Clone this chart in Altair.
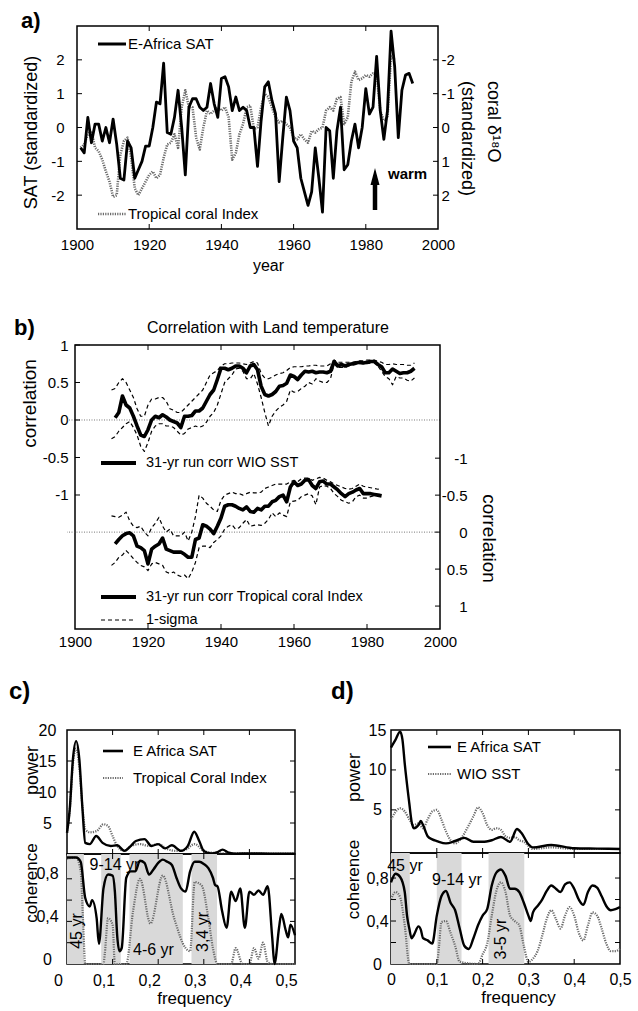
import altair as alt
import pandas as pd

FONT = "Liberation Sans"
INK = "#000000"
DOTS = "#6b6b6b"
SHADE = "#d9d9d9"

# ---------------- a) annual series ----------------
sat_years = list(range(1901, 1994))
sat_values = [
    -0.6, -0.75, 0.3, -0.45, 0.1, 0.1, -0.4, 0.0, -0.45, 0.25,
    -0.5, -1.5, -1.55, -0.4, -0.6, -1.5, -1.25, -1.0, -0.55, -0.55,
    0.0, 0.75, 0.7, 1.9, -0.15, -0.2, 0.3, 1.1, 0.0, -1.4,
    0.6, 0.85, 0.85, 0.6, 0.5, 0.6, 1.3, 0.7, 0.3, 1.45,
    1.5, 1.2, 0.5, 0.9, 0.5, 0.6, 0.5, 0.0, 0.0, -1.15,
    0.2, 1.2, 1.35, 0.8, 0.4, -1.6, -0.3, 0.9, 0.5, -0.4,
    -0.6, -1.5, -1.9, -2.3, -1.9, -0.6, -1.5, -2.5, 0.0, -0.1,
    -1.5, -0.1, 0.6, -1.25, -1.1, -0.4, 0.1, -0.6, 0.0, 1.15,
    0.4, 0.6, 2.1, 0.5, -0.35, 0.5, 2.85, 1.8, -0.3, 1.1,
    1.55, 1.6, 1.3,
]
coral_years = list(range(1901, 1989))
coral_d18o = [
    0.6, 0.5, 0.2, 0.1, 0.6, 0.7, 0.95, 1.3, 1.6, 2.05,
    2.0, 0.8, 0.4, 0.3, 0.9, 1.8, 2.0, 1.8, 1.6, 1.4,
    1.3, 1.5, 1.4, 0.9, 0.5, 0.45, 0.2, 0.6, -0.6, -1.1,
    -0.6, -0.6, 0.3, 0.65, 0.0, -0.5, -0.4, -0.5, -0.6, -0.5,
    -0.6, -0.3, 0.95, 0.75, 0.2, -0.1, -0.6, -0.65, 0.05, 0.0,
    -0.6, -1.0, -0.9, -0.6, -0.3, -0.15, -0.2, -0.1, 0.0, 0.3,
    0.35, 0.2, 0.35, 0.45, 0.1, 0.15, 0.05, 0.0, -0.5, -0.6,
    -0.5, -0.85, -0.9, -0.1, -0.3, -1.35, -1.65, -1.4, -1.45, -1.55,
    -1.5, -1.6, -1.6, -0.5, -0.2, -0.3, -2.1, -2.0,
]
year_ticks = [1900, 1920, 1940, 1960, 1980, 2000]
inner_year_ticks = [1920, 1940, 1960, 1980]
sat_ticks = [-2, -1, 0, 1, 2]

# ---------------- b) 31-yr running correlations ----------------
wio_years = list(range(1911, 1994))
wio_corr = [
    0.03, 0.1, 0.32, 0.2, 0.16, 0.05, -0.08, -0.2, -0.22, -0.13,
    0.0, 0.05, 0.03, 0.07, 0.04, 0.0, -0.02, -0.04, -0.1, 0.05,
    0.05, 0.06, 0.12, 0.12, 0.16, 0.25, 0.34, 0.4, 0.54, 0.69,
    0.69, 0.67, 0.69, 0.72, 0.72, 0.69, 0.63, 0.72, 0.74, 0.67,
    0.45, 0.34, 0.32, 0.34, 0.38, 0.45, 0.46, 0.49, 0.6, 0.58,
    0.54, 0.6, 0.65, 0.64, 0.65, 0.63, 0.64, 0.64, 0.63, 0.65,
    0.78, 0.72, 0.74, 0.72, 0.74, 0.75, 0.76, 0.77, 0.76, 0.77,
    0.78, 0.78, 0.74, 0.71, 0.63, 0.63, 0.68, 0.65, 0.62, 0.63,
    0.63, 0.65, 0.69,
]
wio_sig_years = list(range(1910, 1994))
wio_upper = [
    0.4, 0.42, 0.5, 0.55, 0.5, 0.4, 0.3, 0.15, 0.05, 0.05,
    0.2, 0.28, 0.28, 0.3, 0.3, 0.25, 0.15, 0.13, 0.1, 0.1,
    0.15, 0.2, 0.25, 0.3, 0.35, 0.4, 0.5, 0.6, 0.63, 0.66,
    0.72, 0.75, 0.75, 0.76, 0.76, 0.76, 0.75, 0.74, 0.76, 0.78,
    0.76, 0.62, 0.56, 0.55, 0.57, 0.6, 0.62, 0.63, 0.66, 0.7,
    0.71, 0.71, 0.71, 0.72, 0.72, 0.73, 0.73, 0.72, 0.72, 0.72,
    0.75, 0.8, 0.77, 0.77, 0.77, 0.77, 0.77, 0.78, 0.79, 0.79,
    0.8, 0.8, 0.8, 0.78, 0.77, 0.74, 0.74, 0.75, 0.74, 0.74,
    0.74, 0.73, 0.73, 0.76,
]
wio_lower = [
    -0.25, -0.22, -0.15, -0.1, -0.05, -0.02, -0.1, -0.2, -0.35, -0.42,
    -0.3, -0.15, -0.08, -0.05, -0.05, -0.08, -0.08, -0.1, -0.15, -0.2,
    -0.18, -0.12, -0.1, -0.08, -0.1, -0.08, -0.03, 0.05, 0.1, 0.2,
    0.35, 0.5, 0.55, 0.6, 0.68, 0.69, 0.65, 0.55, 0.55, 0.62,
    0.48, 0.3, 0.1, -0.08, 0.05, 0.12, 0.17, 0.2, 0.25, 0.4,
    0.37, 0.38, 0.42, 0.45, 0.5, 0.48, 0.55, 0.52, 0.5, 0.5,
    0.55, 0.75, 0.7, 0.7, 0.7, 0.72, 0.73, 0.74, 0.75, 0.75,
    0.75, 0.76, 0.77, 0.72, 0.65, 0.58, 0.55, 0.47, 0.58, 0.56,
    0.56, 0.53, 0.52, 0.56,
]
cor_years = list(range(1911, 1985))
cor_corr = [
    0.16, 0.1, 0.05, 0.02, 0.01, 0.05, 0.19, 0.21, 0.25, 0.43,
    0.23, 0.19, 0.16, 0.08, 0.23, 0.25, 0.27, 0.27, 0.27, 0.3,
    0.34, 0.34, 0.1, 0.08, -0.1, -0.08, -0.04, 0.02, -0.08, -0.19,
    -0.35, -0.37, -0.37, -0.35, -0.32, -0.3, -0.34, -0.28, -0.27, -0.32,
    -0.3, -0.35, -0.35, -0.41, -0.43, -0.48, -0.5, -0.41, -0.61, -0.68,
    -0.63, -0.65, -0.7, -0.71, -0.63, -0.59, -0.68, -0.69, -0.65, -0.65,
    -0.61, -0.57, -0.52, -0.48, -0.52, -0.54, -0.57, -0.59, -0.52, -0.52,
    -0.52, -0.51, -0.5, -0.49,
]
cor_sig_years = list(range(1910, 1985))
cor_upper = [
    -0.22, -0.21, -0.2, -0.23, -0.27, -0.15, -0.08, -0.06, -0.08, 0.0,
    0.05, -0.06, -0.12, -0.2, -0.08, 0.0, -0.04, 0.05, 0.05, 0.05,
    0.0, 0.12, 0.0, -0.21, -0.5, -0.46, -0.39, -0.35, -0.3, -0.28,
    -0.43, -0.5, -0.52, -0.54, -0.52, -0.52, -0.5, -0.52, -0.54, -0.53,
    -0.53, -0.54, -0.59, -0.61, -0.63, -0.65, -0.65, -0.65, -0.65, -0.68,
    -0.7, -0.68, -0.72, -0.73, -0.73, -0.7, -0.72, -0.74, -0.73, -0.7,
    -0.68, -0.65, -0.63, -0.61, -0.59, -0.58, -0.59, -0.62, -0.65, -0.62,
    -0.61, -0.6, -0.59, -0.58, -0.59,
]
cor_lower = [
    0.45, 0.41, 0.34, 0.31, 0.25, 0.3, 0.36, 0.41, 0.45, 0.47,
    0.52, 0.43, 0.41, 0.43, 0.45, 0.54, 0.56, 0.54, 0.58, 0.6,
    0.58, 0.63, 0.54, 0.41, 0.21, 0.19, 0.19, 0.21, 0.14, 0.1,
    0.05, -0.04, -0.08, -0.1, -0.04, -0.06, -0.12, -0.17, -0.08, -0.09,
    -0.1, -0.09, -0.12, -0.17, -0.26, -0.21, -0.26, -0.23, -0.21, -0.41,
    -0.42, -0.43, -0.48, -0.5, -0.52, -0.49, -0.37, -0.61, -0.63, -0.62,
    -0.59, -0.52, -0.48, -0.43, -0.41, -0.39, -0.41, -0.48, -0.5, -0.46,
    -0.46, -0.48, -0.49, -0.5, -0.52,
]
corr_ticks = [-1, -0.5, 0, 0.5, 1]

# ---------------- c) spectra: E Africa SAT vs Tropical Coral Index ----------------
c_sat_f = [0, 0.006, 0.013, 0.02, 0.027, 0.034, 0.04, 0.05, 0.064, 0.078,
           0.096, 0.11, 0.126, 0.14, 0.151, 0.17, 0.185, 0.2, 0.215, 0.23,
           0.25, 0.265, 0.279, 0.29, 0.3, 0.316, 0.33, 0.341, 0.355, 0.37,
           0.4, 0.45, 0.5]
c_sat_pow = [3.4, 7.2, 15.3, 18.2, 15.3, 7.2, 1.8, 1.6, 2.9, 1.8,
             1.3, 1.4, 0.5, 1.3, 2.1, 2.4, 1.3, 1.6, 0.9, 1.4,
             0.5, 1.3, 3.6, 2.1, 0.5, 0.1, 0.3, 0.7, 0.2, 0.05,
             0.1, 0.05, 0.05]
c_cor_f = [0, 0.006, 0.013, 0.02, 0.027, 0.034, 0.04, 0.05, 0.065, 0.08,
           0.09, 0.1, 0.11, 0.125, 0.14, 0.16, 0.18, 0.2, 0.22, 0.24,
           0.26, 0.28, 0.3, 0.32, 0.35, 0.4, 0.45, 0.5]
c_cor_pow = [3.4, 7.0, 14.5, 17.0, 14.0, 7.5, 4.0, 3.5, 3.7, 4.8,
             4.5, 2.9, 1.3, 0.5, 1.3, 1.6, 1.3, 1.6, 0.8, 0.5,
             0.7, 1.6, 0.5, 0.2, 0.1, 0.1, 0.05, 0.05]
c_sat_cf = [0, 0.02, 0.03, 0.04, 0.05, 0.055, 0.065, 0.07, 0.08, 0.09,
            0.1, 0.105, 0.11, 0.115, 0.12, 0.13, 0.14, 0.15, 0.16, 0.17,
            0.18, 0.19, 0.2, 0.21, 0.22, 0.23, 0.24, 0.25, 0.26, 0.27,
            0.28, 0.29, 0.3, 0.31, 0.32, 0.325, 0.33, 0.34, 0.35, 0.36,
            0.37, 0.38, 0.39, 0.4, 0.41, 0.42, 0.43, 0.44, 0.45, 0.455,
            0.465, 0.47, 0.48, 0.485, 0.49, 0.5]
c_sat_coh = [1.0, 1.0, 0.96, 0.62, 0.54, 0.6, 0.43, 0.19, 0.71, 0.84,
             0.83, 0.68, 0.27, 0.12, 0.15, 0.81, 0.87, 0.87, 0.97, 0.95,
             0.84, 0.89, 0.95, 0.98, 0.96, 0.93, 0.81, 0.71, 0.68, 0.87,
             0.96, 0.96, 0.94, 0.9, 0.81, 0.74, 0.73, 0.5, 0.34, 0.68,
             0.59, 0.71, 0.34, 0.68, 0.65, 0.69, 0.65, 0.73, 0.25, 0.0,
             0.34, 0.47, 0.31, 0.25, 0.37, 0.27]
c_cor_cf = [0, 0.02, 0.03, 0.035, 0.04, 0.08, 0.083, 0.09, 0.1, 0.105,
            0.13, 0.145, 0.16, 0.183, 0.21, 0.235, 0.26, 0.27, 0.28, 0.295,
            0.31, 0.32, 0.33, 0.36, 0.37, 0.385, 0.4, 0.41, 0.42, 0.43,
            0.44, 0.45, 0.5]
c_cor_coh = [0.99, 1.0, 0.87, 0.43, 0.0, 0.0, 0.1, 0.43, 0.37, 0.0,
             0.0, 0.5, 0.8, 0.38, 0.83, 0.43, 0.15, 0.12, 0.77, 0.74,
             0.43, 0.15, 0.0, 0.0, 0.15, 0.0, 0.0, 0.15, 0.05, 0.2,
             0.02, 0.0, 0.0]
c_band_from = [0.0, 0.075, 0.137, 0.273]
c_band_to = [0.037, 0.118, 0.254, 0.329]

# ---------------- d) spectra: E Africa SAT vs WIO SST ----------------
d_sat_f = [0, 0.01, 0.02, 0.025, 0.03, 0.04, 0.045, 0.05, 0.06, 0.065,
           0.07, 0.08, 0.09, 0.1, 0.12, 0.14, 0.16, 0.18, 0.2, 0.22,
           0.24, 0.26, 0.275, 0.285, 0.3, 0.31, 0.35, 0.4, 0.45, 0.5]
d_sat_pow = [12.8, 13.8, 14.8, 13.8, 10.8, 5.8, 3.5, 2.7, 3.1, 3.6,
             3.1, 1.7, 1.3, 1.1, 0.8, 1.1, 1.5, 1.0, 1.0, 1.2,
             1.6, 1.0, 2.6, 2.1, 0.7, 0.3, 0.6, 0.2, 0.15, 0.1]
d_wio_f = [0, 0.02, 0.03, 0.04, 0.05, 0.06, 0.07, 0.08, 0.09, 0.1,
           0.11, 0.12, 0.13, 0.14, 0.15, 0.17, 0.18, 0.19, 0.2, 0.21,
           0.22, 0.23, 0.24, 0.25, 0.26, 0.27, 0.28, 0.29, 0.3, 0.31,
           0.35, 0.4, 0.45, 0.5]
d_wio_pow = [3.8, 5.2, 4.8, 3.8, 3.1, 3.3, 2.7, 3.8, 4.8, 5.0,
             3.8, 2.3, 1.2, 0.8, 1.2, 3.1, 4.2, 5.3, 4.6, 3.1,
             2.5, 2.7, 2.5, 1.7, 1.5, 1.6, 1.2, 1.0, 0.5, 0.1,
             0.3, 0.1, 0.1, 0.1]
d_sat_cf = [0, 0.01, 0.02, 0.03, 0.035, 0.04, 0.045, 0.05, 0.06, 0.065,
            0.07, 0.08, 0.09, 0.1, 0.11, 0.12, 0.13, 0.14, 0.15, 0.16,
            0.17, 0.18, 0.19, 0.2, 0.21, 0.22, 0.23, 0.24, 0.25, 0.26,
            0.27, 0.28, 0.29, 0.3, 0.305, 0.31, 0.32, 0.33, 0.34, 0.35,
            0.36, 0.37, 0.38, 0.39, 0.4, 0.41, 0.42, 0.43, 0.44, 0.45,
            0.46, 0.47, 0.48, 0.49, 0.5]
d_sat_coh = [0.76, 0.84, 0.81, 0.67, 0.45, 0.33, 0.24, 0.27, 0.35, 0.32,
             0.24, 0.22, 0.19, 0.45, 0.63, 0.68, 0.57, 0.5, 0.33, 0.17,
             0.14, 0.24, 0.36, 0.45, 0.51, 0.73, 0.85, 0.88, 0.82, 0.7,
             0.7, 0.67, 0.57, 0.45, 0.4, 0.48, 0.54, 0.6, 0.68, 0.73,
             0.7, 0.67, 0.74, 0.76, 0.7, 0.6, 0.55, 0.67, 0.73, 0.71,
             0.63, 0.54, 0.5, 0.51, 0.53]
d_wio_cf = [0, 0.01, 0.02, 0.03, 0.04, 0.1, 0.105, 0.11, 0.12, 0.13,
            0.14, 0.15, 0.19, 0.2, 0.21, 0.22, 0.23, 0.24, 0.25, 0.26,
            0.27, 0.28, 0.29, 0.3, 0.31, 0.32, 0.33, 0.34, 0.35, 0.36,
            0.37, 0.38, 0.39, 0.4, 0.41, 0.42, 0.43, 0.44, 0.45, 0.46,
            0.47, 0.48, 0.49, 0.5]
d_wio_coh = [0.6, 0.67, 0.62, 0.36, 0.0, 0.0, 0.17, 0.39, 0.4, 0.29,
             0.17, 0.02, 0.0, 0.09, 0.19, 0.45, 0.68, 0.76, 0.67, 0.45,
             0.4, 0.36, 0.17, 0.02, 0.05, 0.12, 0.26, 0.42, 0.5, 0.42,
             0.33, 0.45, 0.53, 0.45, 0.29, 0.22, 0.36, 0.48, 0.45, 0.33,
             0.19, 0.12, 0.12, 0.14]
d_band_from = [0.0, 0.1, 0.213]
d_band_to = [0.041, 0.154, 0.291]

freq_ticks = [0, 0.1, 0.2, 0.3, 0.4, 0.5]
inner_freq_ticks = [0.1, 0.2, 0.3, 0.4]
coh_labels = [0, 0.4, 0.8]
coh_ticks = [0.2, 0.4, 0.6, 0.8]

COMMA = "replace(datum.value + '', '.', ',')"
PLAIN = "datum.value + ''"


# ---------------- helpers ----------------
def pos(channel, field, scale, axis):
    kw = dict(scale=scale)
    if axis is not None:
        kw["axis"] = axis
    return channel(field, **kw)


def line(xs, ys, xscale, yscale, color=INK, width=2.6, dash=None,
         xaxis=None, yaxis=None, interpolate="linear"):
    df = pd.DataFrame({"x": xs, "y": ys})
    props = dict(color=color, strokeWidth=width, interpolate=interpolate,
                 strokeJoin="round")
    if dash is not None:
        props["strokeDash"] = dash
    return alt.Chart(df).mark_line(**props).encode(
        x=pos(alt.X, "x:Q", xscale, xaxis),
        y=pos(alt.Y, "y:Q", yscale, yaxis),
    )


def ticks_x(values, scale, height, length=5):
    df = pd.DataFrame({"v": values})
    ex = alt.X("v:Q", scale=scale)
    base = alt.Chart(df).mark_rule(color=INK, strokeWidth=1)
    return [base.encode(x=ex, y=alt.value(0), y2=alt.value(length)),
            base.encode(x=ex, y=alt.value(height), y2=alt.value(height - length))]


def ticks_y(values, scale, x_left, x_right, sides=("left", "right"), length=5):
    df = pd.DataFrame({"v": values})
    ey = alt.Y("v:Q", scale=scale)
    base = alt.Chart(df).mark_rule(color=INK, strokeWidth=1)
    out = []
    if "left" in sides:
        out.append(base.encode(y=ey, x=alt.value(x_left), x2=alt.value(x_left + length)))
    if "right" in sides:
        out.append(base.encode(y=ey, x=alt.value(x_right), x2=alt.value(x_right - length)))
    return out


def frame(x0, x1, scale, height):
    # plot border spanning the x domain
    df = pd.DataFrame({"x0": [x0], "x1": [x1]})
    return alt.Chart(df).mark_rect(filled=False, stroke=INK, strokeWidth=1.5).encode(
        x=alt.X("x0:Q", scale=scale), x2="x1:Q", y=alt.value(0), y2=alt.value(height))


def text(s, x, y, size=15, weight="normal", align="left", baseline="middle", angle=0):
    props = dict(font=FONT, fontSize=size, fontWeight=weight, align=align,
                 baseline=baseline, color=INK)
    if angle:
        props["angle"] = angle
    return alt.Chart(pd.DataFrame({"t": [s]})).mark_text(**props).encode(
        text="t:N", x=alt.value(x), y=alt.value(y))


def sample(x1, x2, y, width, color=INK, dash=None):
    props = dict(color=color, strokeWidth=width)
    if dash is not None:
        props["strokeDash"] = dash
    return alt.Chart(pd.DataFrame({"k": [0]})).mark_rule(**props).encode(
        x=alt.value(x1), x2=alt.value(x2), y=alt.value(y))


def zero_line(scale):
    return alt.Chart(pd.DataFrame({"z": [0]})).mark_rule(
        color="#555555", strokeWidth=0.8, strokeDash=[1, 1.5]
    ).encode(y=alt.Y("z:Q", scale=scale))


def bands(starts, ends, scale):
    df = pd.DataFrame({"f0": starts, "f1": ends})
    return alt.Chart(df).mark_rect(color=SHADE).encode(
        x=alt.X("f0:Q", scale=scale), x2="f1:Q")


NO_VIEW = alt.ViewBackground(strokeOpacity=0)

# ---------------- panel a ----------------
# plot area starts 10 px left of the frame so that all panels share one left origin
WA, HA = 371, 203
A0 = 10
xa = alt.Scale(domain=[1900, 2000], nice=False, zero=False, range=[A0, WA])
ya_sat = alt.Scale(domain=[-3, 3], nice=False, zero=False)
ya_cor = alt.Scale(domain=[-3, 3], nice=False, zero=False, reverse=True)

axis_a_x = alt.Axis(values=year_ticks, format="d", title="year", labelFontSize=15,
                    titleFontSize=16, labelPadding=8, titleX=201, titleY=28,
                    titleBaseline="top")
axis_a_left = alt.Axis(orient="left", offset=-A0, values=sat_ticks, labelExpr=PLAIN,
                       labelFontSize=15, labelPadding=13, title="SAT (standardized)",
                       titleFontSize=18, titleX=-46, titleY=106, titleAngle=270,
                       titleBaseline="middle", titleAlign="center")
axis_a_right = alt.Axis(orient="right", values=sat_ticks, labelExpr=PLAIN, labelFontSize=15,
                        labelPadding=3, labelAlign="left", title=None)

coral_a = line(coral_years, coral_d18o, xa, ya_cor, color=DOTS, width=2.6,
               dash=[1.2, 1.2], xaxis=axis_a_x, yaxis=axis_a_right)
sat_a = line(sat_years, sat_values, xa, ya_sat, width=2.8, xaxis=axis_a_x, yaxis=axis_a_left)

arrow_shaft = alt.Chart(pd.DataFrame({"k": [0]})).mark_rule(color=INK, strokeWidth=4.5).encode(
    x=alt.value(308), y=alt.value(184), y2=alt.value(156))
arrow_head = alt.Chart(pd.DataFrame({"k": [0]})).mark_point(
    shape="M0,-1L0.5,0.9L-0.5,0.9Z", size=324, filled=True, color=INK, opacity=1
).encode(x=alt.value(308), y=alt.value(151))

right_a = alt.layer(coral_a, *ticks_y(sat_ticks, ya_cor, A0, WA, sides=("right",)))
left_a = alt.layer(
    sat_a,
    *ticks_y(sat_ticks, ya_sat, A0, WA, sides=("left",)),
    *ticks_x(inner_year_ticks, xa, HA),
    frame(1900, 2000, xa, HA),
    sample(31, 59, 18, 3),
    text("E-Africa SAT", 61, 18),
    sample(31, 59, 188, 2.6, DOTS, [1.2, 1.2]),
    text("Tropical coral Index", 61, 188),
    arrow_shaft, arrow_head,
    text("warm", 321, 148, weight="bold"),
    text("coral δ¹⁸O", 426, 55, size=18, angle=90),
    text("(standardized)", 400, 55, size=18, angle=90),
    text("a)", -46, -15, size=22, weight="bold", baseline="top"),
)
panel_a = alt.layer(right_a, left_a).resolve_scale(y="independent").properties(
    width=WA, height=HA, view=NO_VIEW)

# ---------------- panel b ----------------
WB, HB = 373, 284
B0 = 8
xb = alt.Scale(domain=[1900, 2000], nice=False, zero=False, range=[B0, WB])
yb_l = alt.Scale(domain=[-2.787, 1], nice=False, zero=False)
yb_r = alt.Scale(domain=[-2.53, 1.31], nice=False, zero=False, reverse=True)

axis_b_x = alt.Axis(values=year_ticks, format="d", title=None, labelFontSize=15, labelPadding=5)
axis_b_left = alt.Axis(orient="left", offset=-B0, values=corr_ticks, labelExpr=PLAIN,
                       labelFontSize=15, labelPadding=7, title="correlation", titleFontSize=19,
                       titleX=-46, titleY=58, titleAngle=270, titleBaseline="middle",
                       titleAlign="center")
axis_b_right = alt.Axis(orient="right", values=corr_ticks, labelExpr=PLAIN, labelFontSize=15,
                        labelPadding=27, labelAlign="right", title="correlation",
                        titleFontSize=19, titleX=48, titleY=193, titleAngle=90,
                        titleBaseline="middle", titleAlign="center")

SIG_DASH = [4, 3]
left_b = alt.layer(
    zero_line(yb_l),
    line(wio_sig_years, wio_upper, xb, yb_l, width=1.2, dash=SIG_DASH),
    line(wio_sig_years, wio_lower, xb, yb_l, width=1.2, dash=SIG_DASH),
    line(wio_years, wio_corr, xb, yb_l, width=3.6, xaxis=axis_b_x, yaxis=axis_b_left),
    *ticks_y(corr_ticks, yb_l, B0, WB, sides=("left",)),
    *ticks_x(inner_year_ticks, xb, HB),
    frame(1900, 2000, xb, HB),
    sample(34, 69, 118, 4),
    text("31-yr run corr WIO SST", 79, 118, size=14.5),
    sample(34, 69, 252, 4),
    text("31-yr run corr Tropical coral Index", 79, 252, size=14.5),
    sample(34, 69, 275, 1.2, dash=SIG_DASH),
    text("1-sigma", 79, 275, size=14.5),
    text("Correlation with Land temperature", 201, -17, size=16, align="center"),
    text("b)", -53, -27, size=22, weight="bold", baseline="top"),
)
right_b = alt.layer(
    zero_line(yb_r),
    line(cor_sig_years, cor_upper, xb, yb_r, width=1.2, dash=SIG_DASH),
    line(cor_sig_years, cor_lower, xb, yb_r, width=1.2, dash=SIG_DASH),
    line(cor_years, cor_corr, xb, yb_r, width=3.6, xaxis=axis_b_x, yaxis=axis_b_right),
    *ticks_y(corr_ticks, yb_r, B0, WB, sides=("right",)),
)
panel_b = alt.layer(left_b, right_b).resolve_scale(y="independent").properties(
    width=WB, height=HB, view=NO_VIEW)


# ---------------- panels c and d ----------------
def spectrum_panel(tag, tag_dy, w, h_pow, h_coh, pow_domain, pow_labels, pow_ticks,
                   pow_lab_pad, pow_title_xy, coh_lab_pad, coh_lab_off, coh_title_xy,
                   x_lab_pad, x_lab_off, x_title_xy,
                   sat_f, sat_p, oth_f, oth_p, oth_name,
                   sat_cf, sat_c, oth_cf, oth_c, b_from, b_to, band_texts, legend_dx, legend_y):
    xs = alt.Scale(domain=[0, 0.5], nice=False, zero=False)
    yp = alt.Scale(domain=pow_domain, nice=False, zero=False)
    yc = alt.Scale(domain=[0, 1.033], nice=False, zero=False)

    pow_axis = alt.Axis(orient="left", values=pow_labels, labelFontSize=16, labelAlign="center",
                        labelPadding=pow_lab_pad, title="power", titleFontSize=18,
                        titleX=pow_title_xy[0], titleY=pow_title_xy[1], titleAngle=270,
                        titleBaseline="middle", titleAlign="center")
    pow_x_axis = alt.Axis(labels=False, ticks=False, title=None)
    coh_axis = alt.Axis(orient="left", values=coh_labels, labelExpr=COMMA, labelFontSize=16,
                        labelAlign="center", labelPadding=coh_lab_pad, labelOffset=coh_lab_off,
                        title="coherence", titleFontSize=17, titleX=coh_title_xy[0],
                        titleY=coh_title_xy[1], titleAngle=270, titleBaseline="middle",
                        titleAlign="center")
    x_axis = alt.Axis(values=freq_ticks, labelExpr=COMMA, labelFontSize=16,
                      labelPadding=x_lab_pad, labelOffset=x_lab_off, title="frequency",
                      titleFontSize=17, titleX=x_title_xy[0], titleY=x_title_xy[1],
                      titleBaseline="top")

    power = alt.layer(
        line(oth_f, oth_p, xs, yp, color=DOTS, width=2.2, dash=[1.2, 1.2],
             xaxis=pow_x_axis, yaxis=pow_axis, interpolate="monotone"),
        line(sat_f, sat_p, xs, yp, width=2.4, xaxis=pow_x_axis, yaxis=pow_axis,
             interpolate="monotone"),
        *ticks_x(inner_freq_ticks, xs, h_pow),
        *ticks_y(pow_ticks, yp, 0, w),
        sample(legend_dx[0], legend_dx[1], legend_y[0], 2.6),
        text("E Africa SAT", legend_dx[2], legend_y[0]),
        sample(legend_dx[0], legend_dx[1], legend_y[1], 2.2, DOTS, [1.2, 1.2]),
        text(oth_name, legend_dx[2], legend_y[1]),
        text(tag, tag_dy[0], tag_dy[1], size=24, weight="bold", baseline="top"),
    ).properties(width=w, height=h_pow)

    coh_layers = [
        bands(b_from, b_to, xs),
        line(oth_cf, oth_c, xs, yc, color=DOTS, width=2.2, dash=[1.2, 1.2],
             xaxis=x_axis, yaxis=coh_axis, interpolate="monotone"),
        line(sat_cf, sat_c, xs, yc, width=2.4, xaxis=x_axis, yaxis=coh_axis,
             interpolate="monotone"),
        *ticks_x(inner_freq_ticks, xs, h_coh),
        *ticks_y(coh_ticks, yc, 0, w),
    ]
    for s, x, y, ang in band_texts:
        coh_layers.append(text(s, x, y, size=16, align="center", angle=ang))
    coherence = alt.layer(*coh_layers).properties(width=w, height=h_coh)
    return alt.vconcat(power, coherence, spacing=0, bounds="flush")


panel_c = spectrum_panel(
    "c)", (-58, -50), 228, 124, 110, [0, 20], [5, 10, 15, 20], [5, 10, 15],
    20, (-35, 40), 20, -5, (-36, 28.5),
    8, -9, (127, 26),
    c_sat_f, c_sat_pow, c_cor_f, c_cor_pow, "Tropical Coral Index",
    c_sat_cf, c_sat_coh, c_cor_cf, c_cor_coh, c_band_from, c_band_to,
    [("45 yr", 10, 77, 270), ("9-14 yr", 47.5, 11, 0), ("4-6 yr", 86.5, 96, 0),
     ("3,4 yr", 135.7, 78, 270)],
    (36, 56, 66), (21, 48),
)
panel_d = spectrum_panel(
    "d)", (-60, -50), 229, 123, 111, [-0.4, 15], [5, 10, 15], [5, 10],
    14, (-37, 47), 14, 0, (-38, 26),
    7, 0, (127, 25),
    d_sat_f, d_sat_pow, d_wio_f, d_wio_pow, "WIO SST",
    d_sat_cf, d_sat_coh, d_wio_cf, d_wio_coh, d_band_from, d_band_to,
    [("45 yr", 14, 13, 0), ("9-14 yr", 66, 27, 0), ("3-5 yr", 110, 86, 270)],
    (37, 60, 66), (17, 44),
)

row_cd = alt.concat(panel_c, panel_d, columns=2, align="none", spacing=32)
top_ab = alt.concat(panel_a, panel_b, columns=1, align="none", spacing=44)

chart = alt.concat(
    top_ab, row_cd, columns=1, align="none", spacing=30,
).properties(
    padding={"left": 8, "top": 10, "right": 4, "bottom": 2},
    background="white",
).configure_view(
    stroke=INK, strokeWidth=1.5
).configure_axis(
    labelFont=FONT, titleFont=FONT, labelColor=INK, titleColor=INK, grid=False,
    domain=False, tickSize=0, titleFontWeight="normal", labelFlush=False
).configure_text(font=FONT)

chart.save("out.html", embed_options={"renderer": "svg", "actions": False})
